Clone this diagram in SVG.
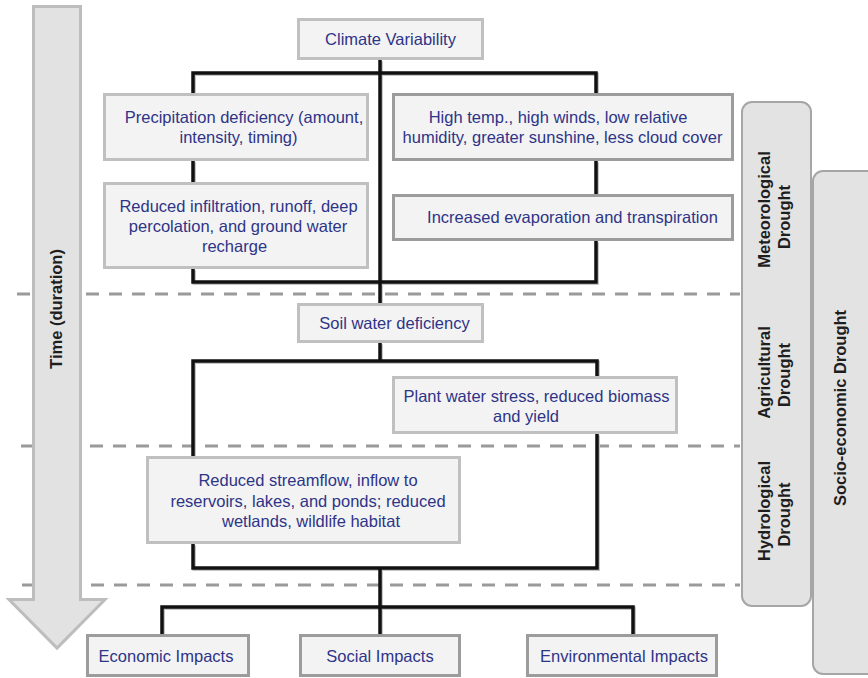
<svg xmlns="http://www.w3.org/2000/svg" width="868" height="678" viewBox="0 0 868 678">
<style>
.box{fill:#f3f3f3;stroke:#c0c0c0;stroke-width:3}
.boxd{fill:#f3f3f3;stroke:#9c9c9c;stroke-width:3}
.t{font-family:"Liberation Sans",Arial,sans-serif;font-size:16.5px;fill:#2e3488;text-anchor:middle}
.b{font-family:"Liberation Sans",Arial,sans-serif;font-size:16.5px;font-weight:bold;fill:#1e1e1e;text-anchor:middle}
.dash{stroke:#9a9a9a;stroke-width:3;stroke-dasharray:13 10;fill:none}
.con{fill:none;stroke:#111;stroke-width:3.5;stroke-linejoin:miter}
.sh{fill:none;stroke:#c4c4c4;stroke-width:3.5}
.panel{fill:#e3e3e3;stroke:#a6a6a6;stroke-width:2}
</style>

<g id="dashed-lines">
<line class="dash" x1="17" y1="294" x2="740" y2="294"/>
<line class="dash" x1="21" y1="446" x2="740" y2="446"/>
<line class="dash" x1="22" y1="585" x2="740" y2="585"/>
</g>

<g id="time-arrow">
<polygon points="33.5,6.5 80.5,6.5 80.5,599.5 105,599.5 57,648 9,599.5 33.5,599.5" fill="#e2e2e2" stroke="#bdbdbd" stroke-width="3"/>
<text class="b" transform="translate(62,309) rotate(-90)">Time (duration)</text>
</g>

<g id="socio-economic">
<rect class="panel" x="813" y="171" width="70" height="503" rx="10"/>
<text class="b" transform="translate(846,408) rotate(-90)">Socio-economic Drought</text>
</g>

<g id="drought-panel">
<rect class="panel" x="742" y="102" width="69" height="504" rx="10"/>
<g id="meteorological">
<text class="b" transform="translate(770,209.5) rotate(-90)">Meteorological</text>
<text class="b" transform="translate(790,217) rotate(-90)">Drought</text>
</g>
<g id="agricultural">
<text class="b" transform="translate(770,372.5) rotate(-90)">Agricultural</text>
<text class="b" transform="translate(790,375) rotate(-90)">Drought</text>
</g>
<g id="hydrological">
<text class="b" transform="translate(770,511) rotate(-90)">Hydrological</text>
<text class="b" transform="translate(790,514.5) rotate(-90)">Drought</text>
</g>
</g>

<g id="connectors">
<g transform="translate(1.2,1.2)">
<path class="sh" d="M380,60 V303"/>
<path class="sh" d="M193,93 V73 H596 V93"/>
<path class="sh" d="M193,161 V182 M596,161 V194"/>
<path class="sh" d="M193,269 V282 H596 V241"/>
<path class="sh" d="M380,343 V361 M193,456 V361 H597 V376"/>
<path class="sh" d="M597,434 V568 H193 V544 M380,568 V634"/>
<path class="sh" d="M162,634 V607 H633 V634"/>
</g>
<path class="con" d="M380,60 V303"/>
<path class="con" d="M193,93 V73 H596 V93"/>
<path class="con" d="M193,161 V182 M596,161 V194"/>
<path class="con" d="M193,269 V282 H596 V241"/>
<path class="con" d="M380,343 V361 M193,456 V361 H597 V376"/>
<path class="con" d="M597,434 V568 H193 V544 M380,568 V634"/>
<path class="con" d="M162,634 V607 H633 V634"/>
</g>

<g id="climate-variability">
<rect class="box" x="298.5" y="19.5" width="184" height="39"/>
<text class="t" x="390.5" y="45">Climate Variability</text>
</g>

<g id="precipitation-deficiency">
<rect class="box" x="104.5" y="94.5" width="263" height="65"/>
<text class="t" x="244" y="123">Precipitation deficiency (amount,</text>
<text class="t" x="238.5" y="143">intensity, timing)</text>
</g>

<g id="reduced-infiltration">
<rect class="box" x="104.5" y="183.5" width="263" height="84"/>
<text class="t" x="238.5" y="212">Reduced infiltration, runoff, deep</text>
<text class="t" x="238" y="232">percolation, and ground water</text>
<text class="t" x="234.5" y="252">recharge</text>
</g>

<g id="high-temp">
<rect class="boxd" x="393.5" y="94.5" width="339" height="65"/>
<text class="t" x="558" y="123">High temp., high winds, low relative</text>
<text class="t" x="562.5" y="143">humidity, greater sunshine, less cloud cover</text>
</g>

<g id="increased-evaporation">
<rect class="boxd" x="393.5" y="195.5" width="339" height="44"/>
<text class="t" x="572.5" y="223">Increased evaporation and transpiration</text>
</g>

<g id="soil-water-deficiency">
<rect class="box" x="298.5" y="304.5" width="184" height="37"/>
<text class="t" x="394.5" y="329">Soil water deficiency</text>
</g>

<g id="plant-water-stress">
<rect class="box" x="393.5" y="377.5" width="283" height="55"/>
<text class="t" x="536.5" y="402">Plant water stress, reduced biomass</text>
<text class="t" x="526" y="422">and yield</text>
</g>

<g id="reduced-streamflow">
<rect class="box" x="147.5" y="457.5" width="312" height="85"/>
<text class="t" x="308" y="486">Reduced streamflow, inflow to</text>
<text class="t" x="308" y="506.5">reservoirs, lakes, and ponds; reduced</text>
<text class="t" x="311" y="527">wetlands, wildlife habitat</text>
</g>

<g id="economic-impacts">
<rect class="boxd" x="87.5" y="635.5" width="161" height="40"/>
<text class="t" x="166" y="662">Economic Impacts</text>
</g>

<g id="social-impacts">
<rect class="boxd" x="300.5" y="635.5" width="159" height="40"/>
<text class="t" x="380" y="662">Social Impacts</text>
</g>

<g id="environmental-impacts">
<rect class="boxd" x="527.5" y="635.5" width="189" height="40"/>
<text class="t" x="624" y="662">Environmental Impacts</text>
</g>
</svg>
